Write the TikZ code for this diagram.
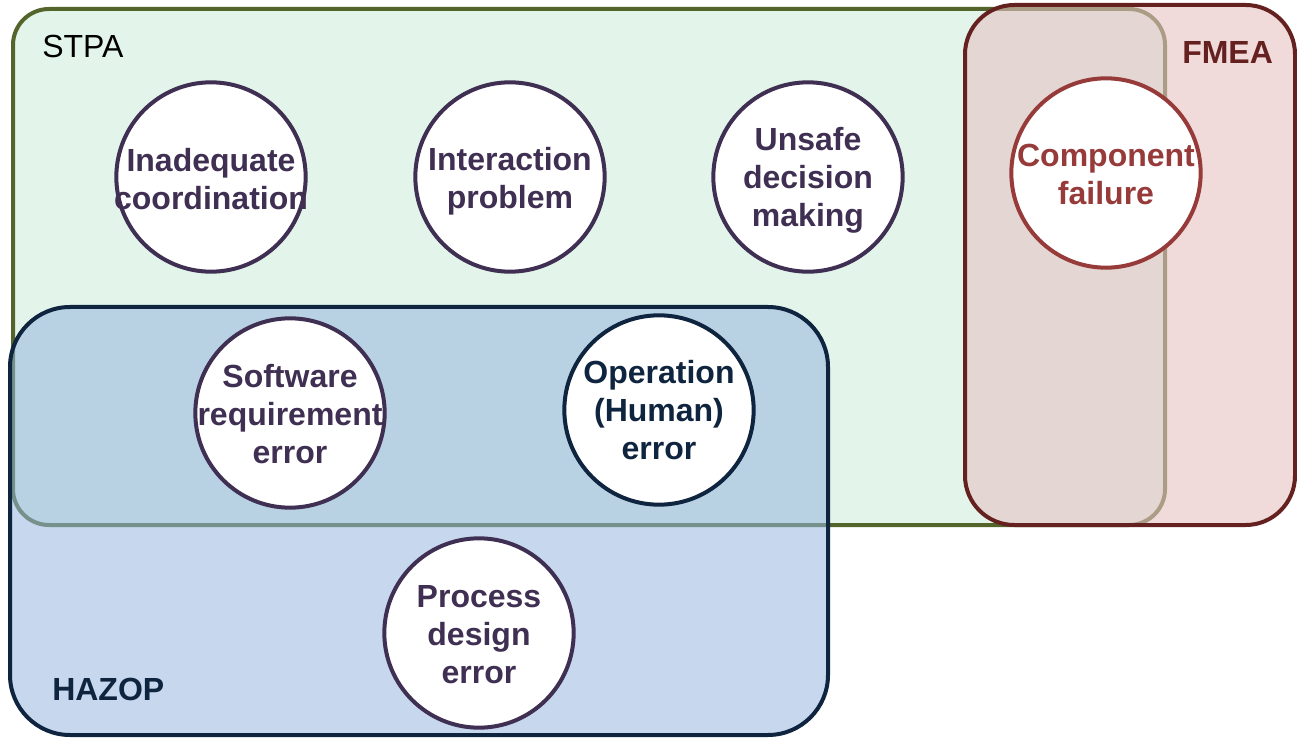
\documentclass[tikz,border=0pt]{standalone}
\usepackage{fontspec}
\setmainfont{Liberation Sans}
\definecolor{stpafill}{RGB}{227,245,234}
\definecolor{stpaline}{RGB}{83,101,43}
\definecolor{fmeafill}{RGB}{230,194,194}
\definecolor{fmealine}{RGB}{101,33,31}
\definecolor{hazfill}{RGB}{149,182,223}
\definecolor{hazline}{RGB}{15,36,62}
\definecolor{cpurple}{RGB}{63,47,82}
\definecolor{cred}{RGB}{151,58,58}
\tikzset{
  bigfont/.style={font=\fontsize{24pt}{28.5pt}\selectfont},
  cause/.style={circle, draw=cpurple, fill=white, line width=3pt,
    minimum size=142pt, inner sep=0pt},
  causetext/.style={text=cpurple, inner sep=0pt, align=center,
    font=\fontsize{24pt}{28.5pt}\selectfont\bfseries},
  boxlabel/.style={anchor=west, inner sep=0pt},
}
\begin{document}
\begin{tikzpicture}[x=0.75pt,y=-0.75pt]
\useasboundingbox (0,0) rectangle (1297,738);
% STPA
\draw[fill=stpafill, draw=stpaline, line width=3pt, rounded corners=27pt] (13,9) rectangle (1165,525);
% FMEA
\fill[fmeafill, fill opacity=0.6, rounded corners=37pt] (965,5) rectangle (1295,525);
\draw[fmealine, line width=3pt, rounded corners=37pt] (965,5) rectangle (1295,525);
% HAZOP
\fill[hazfill, fill opacity=0.54, rounded corners=45pt] (10,307) rectangle (828,735);
\draw[hazline, line width=3pt, rounded corners=45pt] (10,307) rectangle (828,735);
% labels
\node[boxlabel, bigfont] (stpa) at (42,46) {STPA};
\node[boxlabel, text=fmealine, font=\fontsize{24pt}{28.5pt}\selectfont\bfseries] (fmea) at (1182,52) {FMEA};
\node[boxlabel, text=hazline, font=\fontsize{24pt}{28.5pt}\selectfont\bfseries] (hazop) at (52,689) {HAZOP};
% circles
\node[cause] (coord) at (211,177) {};
\node[causetext] (coordT) at (211,179) {Inadequate\\coordination};
\node[cause] (inter) at (510,177) {};
\node[causetext] (interT) at (510,181) {Interaction\\problem};
\node[cause] (unsafe) at (808,177) {};
\node[causetext] (unsafeT) at (808,180) {Unsafe\\decision\\making};
\node[cause, draw=cred] (comp) at (1106,173) {};
\node[causetext, text=cred] (compT) at (1106,174) {Component\\failure};
\node[cause] (soft) at (290,413) {};
\node[causetext] (softT) at (290,414) {Software\\requirement\\error};
\node[cause, draw=hazline] (oper) at (659,410) {};
\node[causetext, text=hazline] (operT) at (659,410) {Operation\\(Human)\\error};
\node[cause] (proc) at (479,633) {};
\node[causetext] (procT) at (479,635) {Process\\design\\error};
\end{tikzpicture}
\end{document}
